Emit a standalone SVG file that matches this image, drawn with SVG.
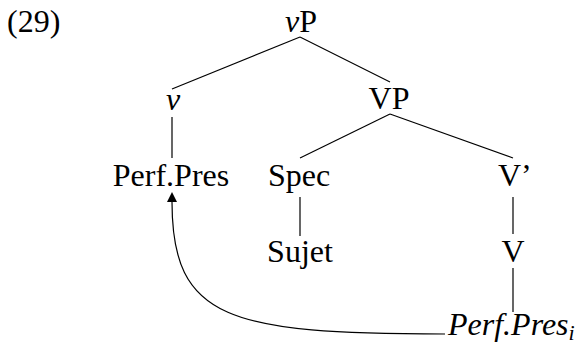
<svg xmlns="http://www.w3.org/2000/svg" width="582" height="350" viewBox="0 0 582 350">
<style>
text{font-family:'Liberation Serif','Times New Roman',serif;font-size:32px;fill:#000}
.c{text-anchor:middle}
.it{font-style:italic}
.ln{stroke:#000;stroke-width:1.2;fill:none}
</style>
<defs>
<marker id="ah" markerUnits="userSpaceOnUse" markerWidth="10" markerHeight="10" viewBox="0 0 10 10" refX="0" refY="5" orient="auto">
<path d="M0,0 L10,5 L0,10 z" fill="#000"/>
</marker>
</defs>
<g font-family="Liberation Serif, serif" font-size="32">
<text x="7" y="32">(29)</text>
<g id="connectors">
<line class="ln" x1="300" y1="37" x2="172" y2="89"/>
<line class="ln" x1="300" y1="37" x2="390" y2="82"/>
<line class="ln" x1="390" y1="114" x2="300" y2="158"/>
<line class="ln" x1="390" y1="114" x2="513" y2="158"/>
<line class="ln" x1="172" y1="117" x2="172" y2="158"/>
<line class="ln" x1="300" y1="197" x2="300" y2="236"/>
<line class="ln" x1="513" y1="197" x2="513" y2="234"/>
<line class="ln" x1="513" y1="268" x2="513" y2="312"/>
<path class="ln" d="M445,334 C230,334 172,320 172,202" marker-end="url(#ah)"/>
</g>
<g id="vP"><text class="c" x="301" y="32"><tspan class="it">v</tspan>P</text></g>
<g id="v"><text class="c it" x="173" y="110">v</text></g>
<g id="VP"><text class="c" x="389" y="109">VP</text></g>
<g id="PerfPres"><text class="c" x="171" y="186">Perf.Pres</text></g>
<g id="Spec"><text class="c" x="299" y="186">Spec</text></g>
<g id="Vbar"><text x="498" y="186">V’</text></g>
<g id="Sujet"><text class="c" x="300" y="262">Sujet</text></g>
<g id="V"><text class="c" x="513" y="262">V</text></g>
<g id="PerfPresi"><text class="it" x="448" y="335">Perf.Pres<tspan font-size="22" dy="5">i</tspan></text></g>
</g>
</svg>
